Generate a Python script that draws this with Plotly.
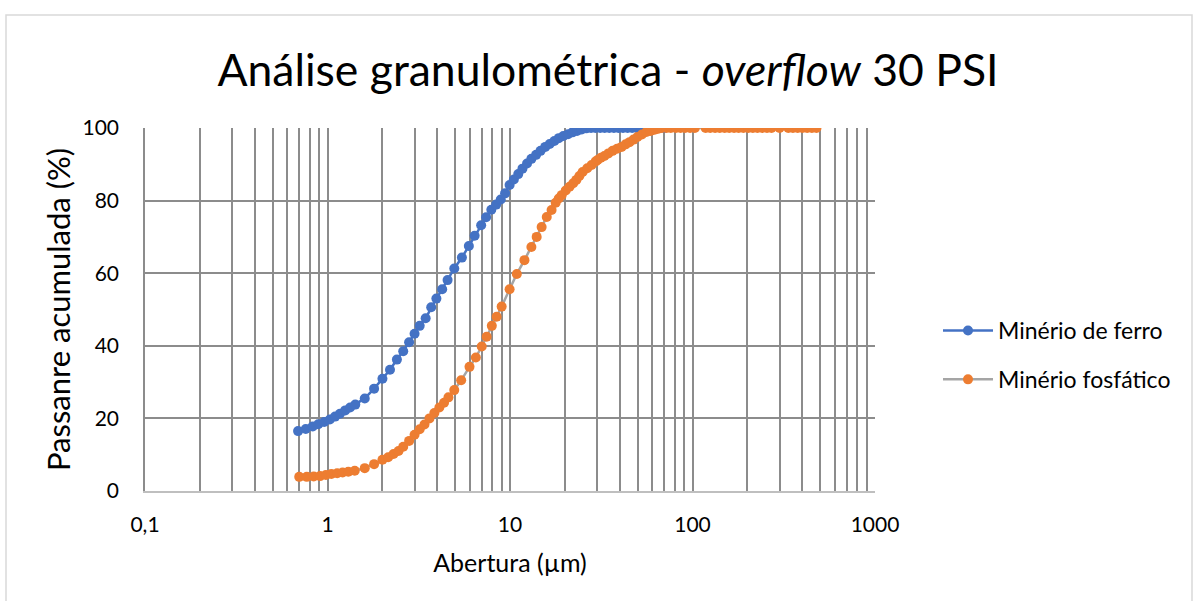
import plotly.graph_objects as go

# ---- data ----
x_ferro = [0.69, 0.76, 0.83, 0.89, 0.96, 1.03, 1.10, 1.17, 1.25, 1.33, 1.42, 1.60, 1.80,
           2.00, 2.20, 2.40, 2.60, 2.80, 3.00, 3.20, 3.45, 3.70, 3.95, 4.25, 4.55, 4.95,
           5.45, 5.95, 6.40, 6.95, 7.40, 7.90, 8.40, 8.90, 9.40, 9.95, 10.5, 11.1, 11.7,
           12.4, 13.1, 13.9, 14.7, 15.6, 16.5, 17.5, 18.5, 19.6, 20.8, 22.0, 23.3, 24.7,
           26.2, 27.8, 29.4, 31.2, 33.0, 35.0, 37.1, 39.3, 41.6, 44.1, 46.7, 49.5, 52.5,
           55.6, 58.9, 62.4, 66.0, 70.0]
y_ferro = [16.5, 17.1, 17.8, 18.4, 19.0, 19.7, 20.5, 21.3, 22.2, 23.0, 23.8, 25.5, 28.2,
           30.9, 33.4, 36.2, 38.5, 41.0, 43.3, 45.5, 47.6, 50.6, 53.0, 55.6, 58.1, 61.3,
           64.3, 67.5, 70.3, 73.2, 75.4, 77.5, 78.9, 80.3, 82.0, 84.3, 85.8, 87.3, 88.8,
           90.2, 91.5, 92.6, 93.7, 94.8, 95.6, 96.4, 97.2, 97.8, 98.3, 98.8, 99.2, 99.6,
           99.9, 100, 100, 100, 100, 100, 100, 100, 100, 100, 100, 100, 100,
           100, 100, 100, 100, 100]

x_fosf = [0.70, 0.77, 0.84, 0.91, 0.98, 1.05, 1.13, 1.21, 1.30, 1.41, 1.60, 1.80, 2.00,
          2.15, 2.30, 2.45, 2.60, 2.80, 3.00, 3.20, 3.40, 3.62, 3.85, 4.10, 4.35, 4.60,
          4.95, 5.40, 6.00, 6.50, 7.00, 7.45, 7.95, 8.45, 9.00, 9.95, 10.9, 12.0, 13.1,
          14.0, 14.9, 15.9, 16.9, 17.8, 18.5, 19.2, 20.2, 21.2, 22.2, 23.1, 24.0, 25.0,
          26.5, 28.0, 29.5, 30.2, 31.5, 32.9, 34.6, 36.5, 38.6, 40.9, 43.0, 45.2, 47.5,
          49.9, 52.8, 55.9, 59.0, 62.0, 65.0, 68.0, 72, 76, 81, 86, 91, 97, 103, 118, 125,
          133, 141, 150, 159, 169, 179, 190, 202, 214, 227, 241, 256, 271, 300, 335, 355,
          377, 400, 425, 451, 478, 507]
y_fosf = [3.9, 3.9, 4.0, 4.1, 4.4, 4.7, 4.9, 5.1, 5.3, 5.6, 6.3, 7.4, 8.6,
          9.3, 10.2, 11.0, 12.2, 13.8, 15.5, 17.0, 18.3, 20.0, 21.5, 23.0, 24.3, 25.8,
          27.8, 30.5, 34.2, 36.8, 39.8, 42.5, 45.5, 48.0, 50.8, 55.6, 59.8, 63.6, 67.2,
          70.0, 72.7, 75.5, 77.4, 79.4, 80.6, 81.5, 82.8, 83.8, 84.8, 85.7, 86.8, 87.9,
          88.9, 89.8, 90.8, 91.2, 91.8, 92.3, 93.0, 93.7, 94.3, 94.8, 95.5, 96.1, 96.8,
          97.5, 98.2, 98.9, 99.2, 99.5, 99.8, 100, 100, 100, 100, 100, 100, 100, 100, 100, 100,
          100, 100, 100, 100, 100, 100, 100, 100, 100, 100, 100, 100, 100, 100, 100, 100,
          100, 100, 100, 100, 100]

x_tickvals = [m * 10 ** e for e in (-1, 0, 1, 2) for m in range(1, 10)] + [1000]
x_ticktext = ["0,1" if v == 0.1 else (str(int(v)) if v in (1, 10, 100, 1000) else "")
              for v in x_tickvals]
y_tickvals = [0, 20, 40, 60, 80, 100]

FONT = "Lato"
GRID = "#8c8c8c"

fig = go.Figure()
fig.add_trace(go.Scatter(
    x=x_ferro, y=y_ferro, mode="lines+markers", name="Minério de ferro",
    legendgroup="ferro",
    line=dict(color="#4472C4", width=2.5),
    marker=dict(color="#4472C4", size=10),
))
fig.add_trace(go.Scatter(
    x=x_fosf, y=y_fosf, mode="lines+markers", name="Minério fosfático",
    legendgroup="fosf",
    line=dict(color="#A5A5A5", width=2.5),
    marker=dict(color="#ED7D31", size=10),
))

fig.update_layout(
    width=1198, height=601,
    paper_bgcolor="white", plot_bgcolor="white",
    margin=dict(l=145, r=323, t=128, b=110),
    font=dict(family=FONT, color="#000000", size=21),
    title=dict(text="Análise granulométrica - <i>overflow</i> 30 PSI",
               x=0.5075, xanchor="center", y=1 - 70 / 601, yanchor="middle",
               font=dict(size=44.5, family=FONT, color="#000000")),
    legend=dict(x=(938 - 145) / 730, xanchor="left", y=(491 - 355) / 363, yanchor="middle",
                font=dict(size=23, family=FONT), bgcolor="rgba(0,0,0,0)",
                tracegroupgap=16, itemwidth=50),
    showlegend=True,
    xaxis=dict(type="log", range=[-1, 3], tickvals=x_tickvals, ticktext=x_ticktext,
               showgrid=True, gridcolor=GRID, gridwidth=1.5,
               showline=True, linecolor="#BFBFBF", linewidth=1.5, mirror=False,
               ticks="", zeroline=False, ticklabelstandoff=14,
               tickfont=dict(size=21, family=FONT),
               title=dict(text="Abertura (µm)", font=dict(size=25, family=FONT), standoff=20)),
    yaxis=dict(range=[0, 100], tickvals=y_tickvals,
               showgrid=True, gridcolor=GRID, gridwidth=1.5,
               showline=True, linecolor=GRID, linewidth=1.5,
               ticks="", zeroline=False, ticklabelstandoff=20,
               tickfont=dict(size=21, family=FONT),
               title=dict(text="Passanre acumulada (%)", font=dict(size=31, family=FONT), standoff=3)),
    shapes=[dict(type="rect", xref="paper", yref="paper",
                 x0=(6 - 145) / 730, x1=(1192 - 145) / 730,
                 y0=(491 - 640) / 363, y1=(491 - 15) / 363,
                 line=dict(color="#D9D9D9", width=1.5), layer="below")],
)

fig.write_html("out.html")
